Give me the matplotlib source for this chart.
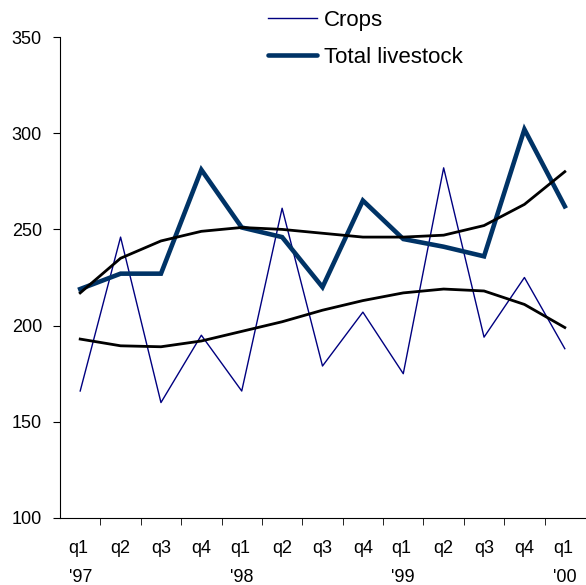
from matplotlib import pyplot as plt
from matplotlib.lines import Line2D
import numpy as np

plt.rcParams['font.family'] = ['Liberation Sans', 'DejaVu Sans']

quarters = ["q1\n'97", "q2", "q3", "q4", "q1\n'98", "q2", "q3", "q4",
            "q1\n'99", "q2", "q3", "q4", "q1\n'00"]
crops = [166, 246, 160, 195, 166, 261, 179, 207, 175, 282, 194, 225, 188]
livestock = [219, 227, 227, 281, 251, 246, 220, 265, 245, 241, 236, 302, 262]
# trend lines
livestock_trend = [217, 235, 244, 249, 251, 250, 248, 246, 246, 247, 252, 263, 280]
crops_trend = [193, 189.5, 189, 192, 197, 202, 208, 213, 217, 219, 218, 211, 199]

x = np.arange(len(quarters))

fig = plt.figure(figsize=(5.86, 5.85), dpi=100)
ax = fig.add_axes([60/586, 1 - 518/585, 525/586, 481/585])

ax.plot(x, crops, color='#000080', lw=1.0, label='Crops')
ax.plot(x, livestock, color='#003366', lw=3.3, label='Total livestock',
        solid_joinstyle='miter')
ax.plot(x, livestock_trend, color='black', lw=2.0)
ax.plot(x, crops_trend, color='black', lw=2.0)

ax.set_xlim(-0.5, len(quarters) - 0.5)
ax.set_ylim(100, 350)
ax.set_yticks(range(100, 351, 50))
ax.set_xticks(x)
ax.set_xticklabels(quarters, va='top')
ax.set_xticks(x[:-1] + 0.5, minor=True)
ax.tick_params(axis='x', which='major', length=0, pad=16, labelsize=13)
ax.tick_params(axis='x', which='minor', length=5, direction='out')
ax.tick_params(axis='y', length=5, direction='out', pad=8, labelsize=13)
for lab in ax.get_xticklabels():
    lab.set_multialignment('left')
    lab.set_linespacing(1.9)

ax.spines['top'].set_visible(False)
ax.spines['right'].set_visible(False)

handles = [Line2D([], [], color='#000080', lw=1.0),
           Line2D([], [], color='#003366', lw=3.3, solid_capstyle='round')]
fig.legend(handles, ['Crops', 'Total livestock'], loc='upper left',
           bbox_to_anchor=(248/586, 1.017), frameon=False, fontsize=16,
           handlelength=2.2, handletextpad=0.3, labelspacing=0.72)

plt.savefig('out.png', dpi=100)
